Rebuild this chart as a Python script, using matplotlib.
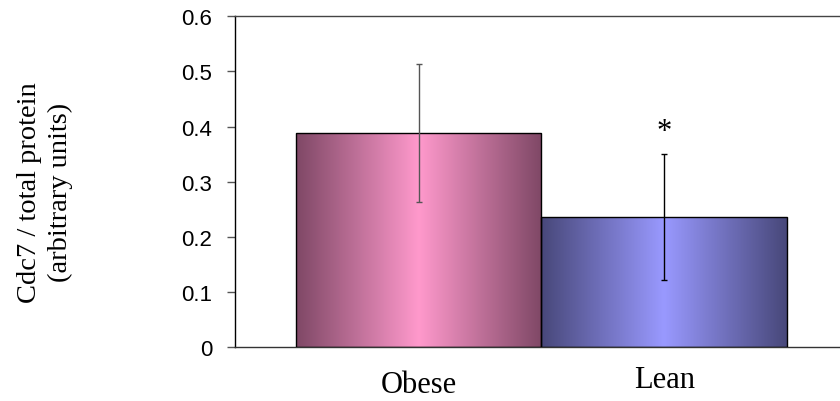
import numpy as np
import matplotlib
matplotlib.use("Agg")
import matplotlib.pyplot as plt
from matplotlib.colors import LinearSegmentedColormap
from matplotlib.transforms import ScaledTranslation

groups = ["Obese", "Lean"]
means = [0.388, 0.236]
errs = [0.125, 0.114]
edge_cols = ["#7f4866", "#48487a"]
mid_cols = ["#ff99cc", "#9999ff"]
err_cols = ["#555555", "#000000"]
star_text = "*"

fig = plt.figure(figsize=(8.4, 4.02), dpi=100)
ax = fig.add_axes([0.2793, 0.1335, 1.0 - 0.2793, 0.957 - 0.1335])

x = np.arange(len(groups))
bars = ax.bar(x, means, width=1.0, color="none", edgecolor="black", linewidth=1.0, zorder=3)

# horizontal gradient fill, dark edges, light centre
ramp = np.abs(np.linspace(-1, 1, 256))[None, :]
for b, c0, c1 in zip(bars, edge_cols, mid_cols):
    cmap = LinearSegmentedColormap.from_list("g", [c1, c0])
    x0, w, h = b.get_x(), b.get_width(), b.get_height()
    im = ax.imshow(ramp, cmap=cmap, aspect="auto", extent=(x0, x0 + w, 0, h),
                   vmin=0, vmax=1, zorder=2)
    im.set_clip_path(b)

for xi, m, e, c in zip(x, means, errs, err_cols):
    ax.errorbar(xi, m, yerr=e, fmt="none", ecolor=c, elinewidth=1.0,
                capsize=2.5, capthick=1.0, zorder=4)

ax.text(x[1], 0.392, star_text, ha="center", va="center", fontsize=22,
        family="Liberation Serif", zorder=5)

ax.set_xlim(-0.749, 1.715)
ax.set_ylim(0, 0.6)
ax.set_yticks([0, 0.1, 0.2, 0.3, 0.4, 0.5, 0.6])
ax.set_yticklabels(["0", "0.1", "0.2", "0.3", "0.4", "0.5", "0.6"],
                   family="Liberation Sans", fontsize=16)
ax.tick_params(axis="y", direction="out", length=6, width=1, color="#555555", pad=10)
ax.set_xticks(x)
ax.set_xticklabels(groups, family="Liberation Serif", fontsize=22)
ax.tick_params(axis="x", length=0, pad=16)
lean_lbl = ax.get_xticklabels()[1]
lean_lbl.set_transform(lean_lbl.get_transform() + ScaledTranslation(0, 3.5 / 72, fig.dpi_scale_trans))

ax.spines["right"].set_visible(False)
ax.spines["left"].set_color("black")
ax.spines["top"].set_color("#444444")
ax.spines["bottom"].set_color("#333333")
for s in ax.spines.values():
    s.set_linewidth(1.0)

fig.text(0.054, 0.522, "Cdc7 / total protein\n(arbitrary units)", rotation=90,
         ha="center", va="center", multialignment="center",
         family="Liberation Serif", fontsize=20.5, linespacing=1.3)

fig.savefig("out.png", dpi=100)
